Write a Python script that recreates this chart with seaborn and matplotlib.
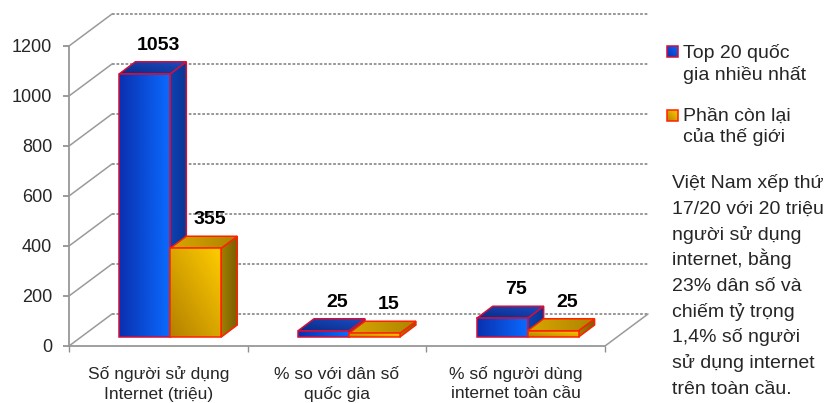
import numpy as np
import pandas as pd
import matplotlib
matplotlib.use("Agg")
import matplotlib.pyplot as plt
import seaborn as sns
from matplotlib.patches import Polygon
from matplotlib.colors import to_rgb

# ---- data ----
categories = ["Số người sử dụng\nInternet (triệu)",
              "% so với dân số\nquốc gia",
              "% số người dùng\ninternet toàn cầu"]
series = ["Top 20 quốc\ngia nhiều nhất", "Phần còn lại\ncủa thế giới"]
top20 = [1053, 25, 75]
rest = [355, 15, 25]
y_ticks = [0, 200, 400, 600, 800, 1000, 1200]
note = ("Việt Nam xếp thứ\n17/20 với 20 triệu\nngười sử dụng\ninternet, bằng\n"
        "23% dân số và\nchiếm tỷ trọng\n1,4% số người\nsử dụng internet\ntrên toàn cầu.")

# ---- styling ----
W, H = 828, 403
BLUE, ORANGE = "#0a4ee0", "#f0b400"
STYLE = {
    0: dict(front=("#0a30b0", "#0a6aff", (1, 0)),
            top=("#0a2a88", "#1a4cc0", (1, 1)),
            side=("#0c42b4", "#0a3594", (1, 0)),
            edge="#d0103a"),
    1: dict(front=("#b38000", "#ffcc00", (1, 1)),
            top=("#d8a600", "#ae8400", (1, 0)),
            side=("#a08000", "#7a5e00", (1, 0)),
            edge="#ff2200"),
}
BAR_SHIFT = (12, 9)     # bars sit part-way into the floor
BAR_DEPTH = (16, 12)    # depth of each 3-D bar
WALL_DEPTH = (43, 32)   # depth of the floor / back wall
GRID = "#8f8f8f"

sns.set_theme(style="white")
plt.rcParams["font.family"] = ["Liberation Sans", "DejaVu Sans"]

fig = plt.figure(figsize=(W / 100, H / 100), dpi=100)
fig.patch.set_facecolor("white")
ax = fig.add_axes([69 / W, 57 / H, 536 / W, 300 / H])

df = pd.DataFrame({
    "cat": categories * 2,
    "series": [series[0]] * len(categories) + [series[1]] * len(categories),
    "value": top20 + rest,
})
sns.barplot(data=df, x="cat", y="value", hue="series", palette=[BLUE, ORANGE],
            width=0.57, saturation=1, ax=ax, legend=False, errorbar=None)
ax.set_xlim(-0.5, len(categories) - 0.5)
ax.set_ylim(0, max(y_ticks))
ax.set_xlabel("")
ax.set_ylabel("")
ax.set_facecolor("none")

# axes and ticks
for side in ("top", "right"):
    ax.spines[side].set_visible(False)
for side in ("left", "bottom"):
    ax.spines[side].set_color(GRID)
    ax.spines[side].set_linewidth(1.2)
    ax.spines[side].set_linestyle((0, (1.5, 1)))
ax.set_yticks(y_ticks)
ax.set_yticklabels([str(t) for t in y_ticks], fontsize=13)
ax.tick_params(axis="y", direction="out", length=4, color=GRID, pad=8, left=True)
ax.set_xticks(range(len(categories)))
ax.set_xticklabels([""] * len(categories))
ax.tick_params(axis="x", which="major", length=0)
ax.set_xticks(np.arange(-0.5, len(categories)), minor=True)
ax.tick_params(axis="x", which="minor", direction="out", length=4, color=GRID, bottom=True)

# overlay in pixel units for the 3-D walls, bars and text blocks
ov = fig.add_axes([0, 0, 1, 1], zorder=3)
ov.set_xlim(0, W)
ov.set_ylim(0, H)
ov.axis("off")
ov.patch.set_alpha(0)
ov.set_autoscale_on(False)


def px(x, y):
    return ax.transData.transform((x, y))


def text_lines(x, y_first, text, step, **kw):
    # one text per line so every line gets the same spacing
    for i, line in enumerate(text.split("\n")):
        ov.text(x, H - (y_first + i * step), line, va="baseline", zorder=60, **kw)


x_lo, x_hi = ax.get_xlim()
wx, wy = WALL_DEPTH
for t in y_ticks:
    a = px(x_lo, t)
    b = px(x_hi, t)
    ov.plot([a[0] + wx, b[0] + wx], [a[1] + wy, b[1] + wy], color=GRID,
            lw=1.3, ls=(0, (1.5, 1)), zorder=1)
    ov.plot([a[0], a[0] + wx], [a[1], a[1] + wy], color="#9a9a9a", lw=1.1, zorder=1)
c = px(x_hi, 0)
ov.plot([c[0], c[0] + wx], [c[1], c[1] + wy], color="#9a9a9a", lw=1.1, zorder=1)

# category labels under the floor
for i, cat in enumerate(categories):
    cx = px(i, 0)[0]
    text_lines(cx, 379, cat, 19.5, ha="center", fontsize=12.5)


def gradient_poly(verts, c0, c1, direction, edge, z):
    verts = np.asarray(verts)
    xmin, ymin = verts.min(axis=0)
    xmax, ymax = verts.max(axis=0)
    n = 64
    gx, gy = np.meshgrid(np.linspace(0, 1, n), np.linspace(0, 1, n))
    dx, dy = direction
    t = (dx * gx + dy * gy) / (abs(dx) + abs(dy))
    col = (1 - t)[..., None] * np.array(to_rgb(c0)) + t[..., None] * np.array(to_rgb(c1))
    ov.add_patch(Polygon(verts, closed=True, facecolor="none", edgecolor=edge,
                         lw=1.1, zorder=z + 0.5, joinstyle="miter"))
    im = ov.imshow(col, extent=(xmin, xmax, ymin, ymax), origin="lower",
                   aspect="auto", interpolation="bilinear", zorder=z)
    im.set_clip_path(Polygon(verts, closed=True, transform=ov.transData))


bars = []
for p in ax.patches:
    fc = p.get_facecolor()[:3]
    hue = 0 if np.allclose(fc, to_rgb(BLUE), atol=0.02) else 1
    bars.append((p.get_x(), hue, p))

sx, sy = BAR_SHIFT
bx, by = BAR_DEPTH
z = 2
for x0, hue, p in sorted(bars, key=lambda b: b[0]):
    w, h = p.get_width(), p.get_height()
    st = STYLE[hue]
    l, b0 = px(x0, 0)
    r, t = px(x0 + w, h)
    l, r, b0, t = l + sx, r + sx, b0 + sy, t + sy
    front = [(l, b0), (r, b0), (r, t), (l, t)]
    top = [(l, t), (r, t), (r + bx, t + by), (l + bx, t + by)]
    side = [(r, b0), (r + bx, b0 + by), (r + bx, t + by), (r, t)]
    gradient_poly(side, *st["side"], st["edge"], z)
    gradient_poly(top, *st["top"], st["edge"], z + 1)
    gradient_poly(front, *st["front"], st["edge"], z + 2)
    z += 3
    ov.text((l + r) / 2 + 14, t + by + 8, f"{h:g}", ha="center", va="bottom",
            fontsize=14, fontweight="bold", color="black", zorder=50)
    p.set_visible(False)

# legend
for i, (label, key) in enumerate(zip(series, (0, 1))):
    y_top = 46 + 64 * i
    sq = [(667, H - y_top - 11), (678, H - y_top - 11), (678, H - y_top), (667, H - y_top)]
    gradient_poly(sq, STYLE[key]["front"][0], STYLE[key]["front"][1], (1, 1),
                  STYLE[key]["edge"], 60)
    text_lines(683, 58 + 63 * i, label, 21.5, ha="left", fontsize=14)

text_lines(672, 188, note, 25.75, ha="left", fontsize=14)

fig.savefig("out.png", dpi=100, facecolor="white")
